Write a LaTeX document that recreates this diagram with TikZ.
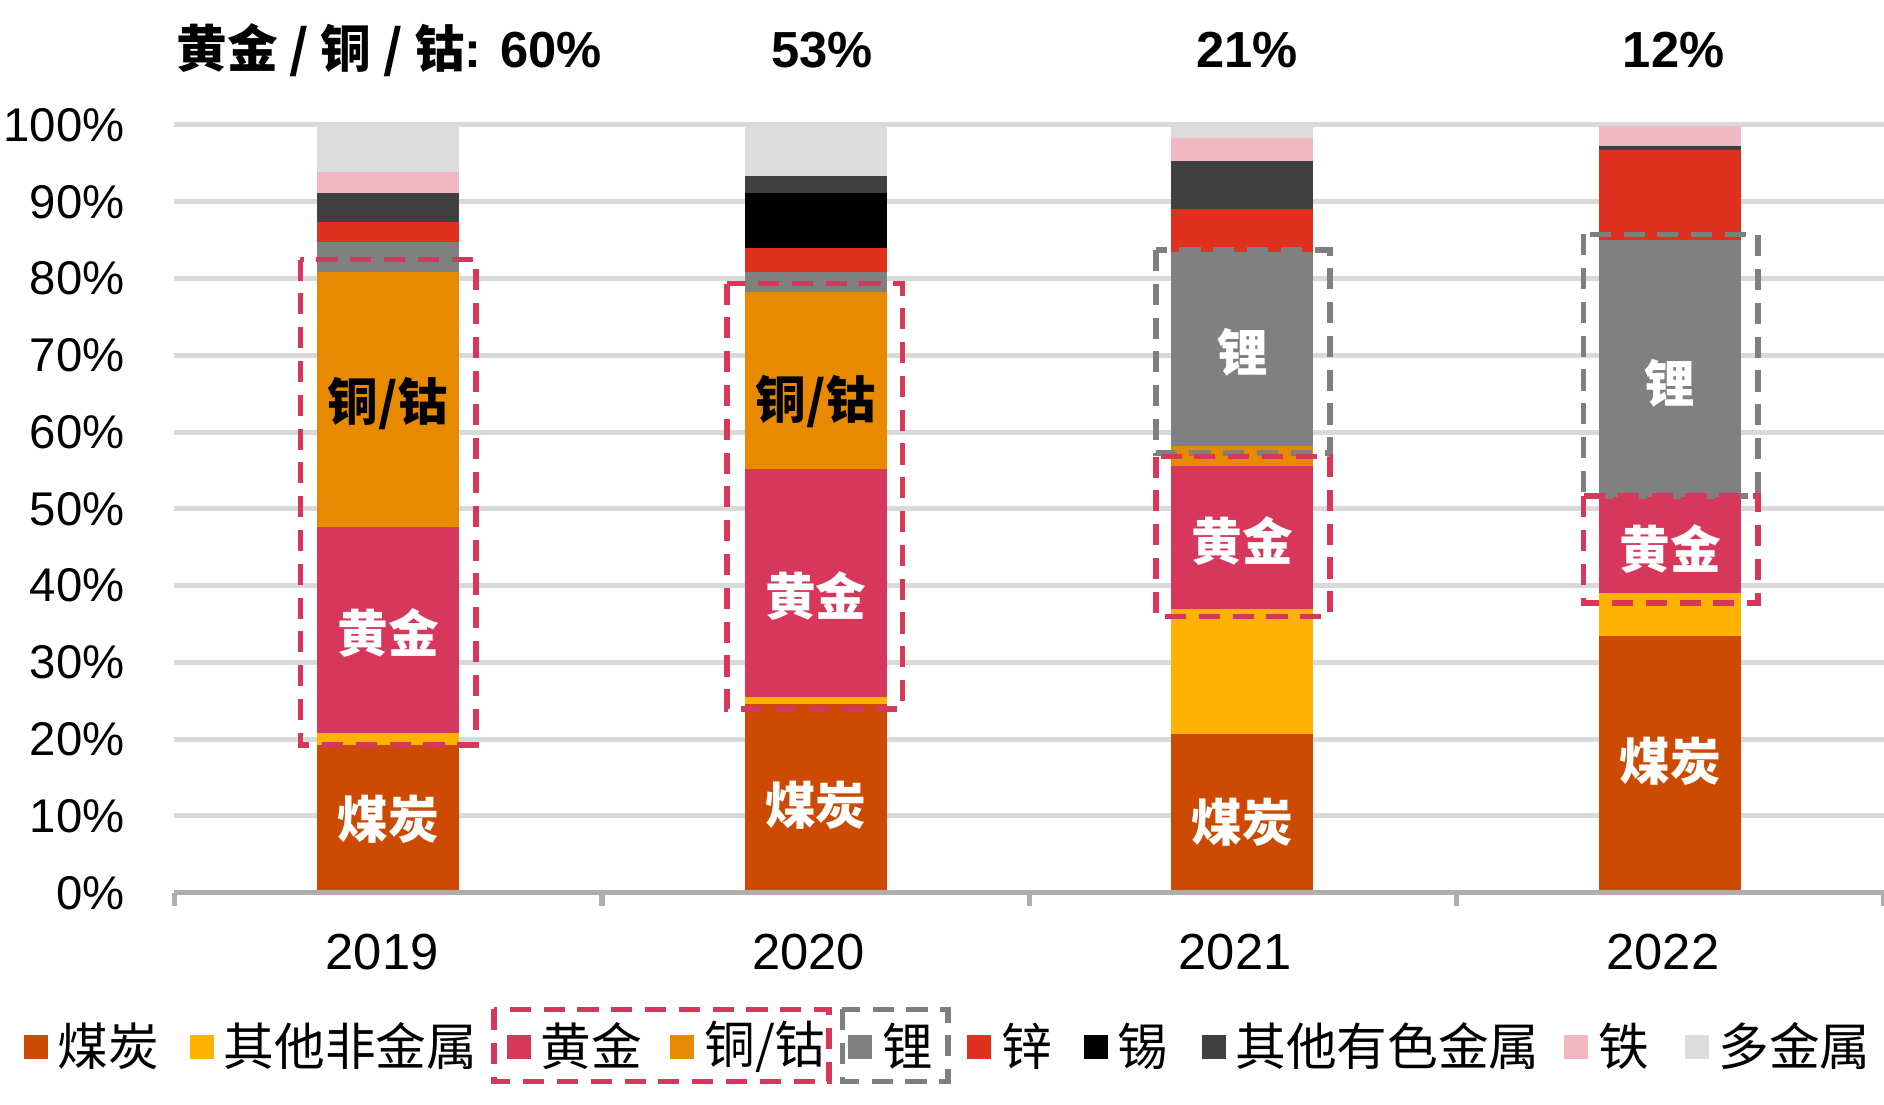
\documentclass[tikz,border=0pt]{standalone}
\usepackage{fontspec}
\setmainfont{Liberation Sans}
\newfontfamily\cjk{Noto Sans CJK SC}
\begin{document}
\begin{tikzpicture}[x=0.01cm,y=-0.01cm,
  lab/.style={font=\fontsize{12pt}{14pt}\selectfont},
  axlab/.style={font=\fontsize{11.2pt}{13pt}\selectfont,anchor=east,inner sep=1pt},
  inlab/.style={font=\cjk\bfseries\fontsize{12pt}{14pt}\selectfont},
  toplab/.style={font=\bfseries\fontsize{12pt}{14pt}\selectfont},
  redbox/.style={draw=cRedBox,dashed,line width=1.3pt,dash pattern=on 5pt off 3pt},
  graybox/.style={draw=cGrayBox,dashed,line width=1.3pt,dash pattern=on 5pt off 3pt},
  legsq/.style={minimum size=0.2cm,inner sep=0pt},
  legtx/.style={font=\cjk\fontsize{12pt}{14pt}\selectfont,anchor=west,inner sep=1pt}]
\definecolor{cCoal}{HTML}{CC4A02}
\definecolor{cNon}{HTML}{FFB300}
\definecolor{cGold}{HTML}{D6375A}
\definecolor{cCu}{HTML}{E88A00}
\definecolor{cLi}{HTML}{808080}
\definecolor{cZn}{HTML}{E0301E}
\definecolor{cSn}{HTML}{000000}
\definecolor{cOth}{HTML}{404040}
\definecolor{cFe}{HTML}{F2B8C2}
\definecolor{cPoly}{HTML}{DCDCDC}
\definecolor{cRedBox}{HTML}{D6375A}
\definecolor{cGrayBox}{HTML}{7F7F7F}
\definecolor{cGrid}{HTML}{D9D9D9}
\useasboundingbox (0,0) rectangle (1568,919);
% grid
\foreach \p in {10,20,...,100} \draw[cGrid,line width=1.2pt] (145,{743-6.39*\p}) -- (1568,{743-6.39*\p});
\foreach \p in {0,10,...,100} \node[axlab] at (108,{743-6.39*\p}) {\p\%};
% bars
\newcommand\seg[4]{\fill[#4] ({#1-59},{743-6.39*#2}) rectangle ({#1+59},{743-6.39*#3});}
% 2019
\seg{323}{0}{19.2}{cCoal}\seg{323}{19.2}{20.8}{cNon}\seg{323}{20.8}{47.6}{cGold}\seg{323}{47.6}{80.9}{cCu}
\seg{323}{80.9}{84.8}{cLi}\seg{323}{84.8}{87.3}{cZn}\seg{323}{87.3}{91.1}{cOth}\seg{323}{91.1}{93.9}{cFe}\seg{323}{93.9}{100}{cPoly}
% 2020
\seg{679}{0}{24.6}{cCoal}\seg{679}{24.6}{25.5}{cNon}\seg{679}{25.5}{55.2}{cGold}\seg{679}{55.2}{78.2}{cCu}
\seg{679}{78.2}{80.9}{cLi}\seg{679}{80.9}{84.0}{cZn}\seg{679}{84.0}{91.2}{cSn}\seg{679}{91.2}{93.3}{cOth}\seg{679}{93.3}{100}{cPoly}
% 2021
\seg{1034}{0}{20.7}{cCoal}\seg{1034}{20.7}{36.9}{cNon}\seg{1034}{36.9}{55.6}{cGold}\seg{1034}{55.6}{58.2}{cCu}
\seg{1034}{58.2}{83.4}{cLi}\seg{1034}{83.4}{89.0}{cZn}\seg{1034}{89.0}{95.3}{cOth}\seg{1034}{95.3}{98.3}{cFe}\seg{1034}{98.3}{100}{cPoly}
% 2022
\seg{1390}{0}{33.5}{cCoal}\seg{1390}{33.5}{39.1}{cNon}\seg{1390}{39.1}{51.5}{cGold}
\seg{1390}{51.5}{85.0}{cLi}\seg{1390}{85.0}{96.7}{cZn}\seg{1390}{96.7}{97.3}{cOth}\seg{1390}{97.3}{99.8}{cFe}\seg{1390}{99.8}{100}{cPoly}
% inner labels
\node[inlab,white] (c19) at (323,682) {煤炭};
\node[inlab,white] (g19) at (323,527) {黄金};
\node[inlab] (u19) at (323,336) {铜/钴};
\node[inlab,white] (c20) at (679,670) {煤炭};
\node[inlab,white] (g20) at (679,496) {黄金};
\node[inlab] (u20) at (679,334) {铜/钴};
\node[inlab,white] (c21) at (1034,684) {煤炭};
\node[inlab,white] (g21) at (1034,450) {黄金};
\node[inlab,white] (l21) at (1034,293) {锂};
\node[inlab,white] (c22) at (1390,634) {煤炭};
\node[inlab,white] (g22) at (1390,457) {黄金};
\node[inlab,white] (l22) at (1390,319) {锂};
% dashed boxes
\draw[redbox] (250,216) rectangle (396,620);
\draw[redbox] (605,236) rectangle (751,590);
\draw[graybox] (962,208) rectangle (1107,377);
\draw[redbox] (962,380) rectangle (1107,513);
\draw[graybox] (1318,195) rectangle (1463,413);
\draw[redbox] (1318,413) rectangle (1463,502);
% axis
\draw[cGrid!80!black,line width=1.2pt] (145,743) -- (1568,743);
\foreach \x in {145,501,857,1212,1568} \draw[cGrid!80!black,line width=1.2pt] (\x,743) -- (\x,754);
\node[lab] (y19) at (318,792) {2019};
\node[lab] (y20) at (673,792) {2020};
\node[lab] (y21) at (1028,792) {2021};
\node[lab] (y22) at (1384,792) {2022};
% top labels
\node[toplab] (t19) at (324,42) {{\cjk\bfseries 黄金 / 铜 / 钴}: 60\%};
\node[toplab] (t20) at (684,42) {53\%};
\node[toplab] (t21) at (1038,42) {21\%};
\node[toplab] (t22) at (1393,42) {12\%};
% legend
\foreach \x/\c/\t/\n in {30/cCoal/煤炭/a,168/cNon/其他非金属/b,432/cGold/黄金/c,568/cCu/{铜/钴}/d,716/cLi/锂/e,815/cZn/锌/f,912/cSn/锡/g,1010/cOth/其他有色金属/h,1312/cFe/铁/i,1412/cPoly/多金属/j}{
  \node[legsq,fill=\c] (sq\n) at (\x,871) {};
  \node[legtx] (lt\n) at (\x+14,871) {\t};
}
\draw[redbox] (411,840) rectangle (690,900);
\draw[graybox] (701,840) rectangle (789,900);
\end{tikzpicture}
\end{document}
